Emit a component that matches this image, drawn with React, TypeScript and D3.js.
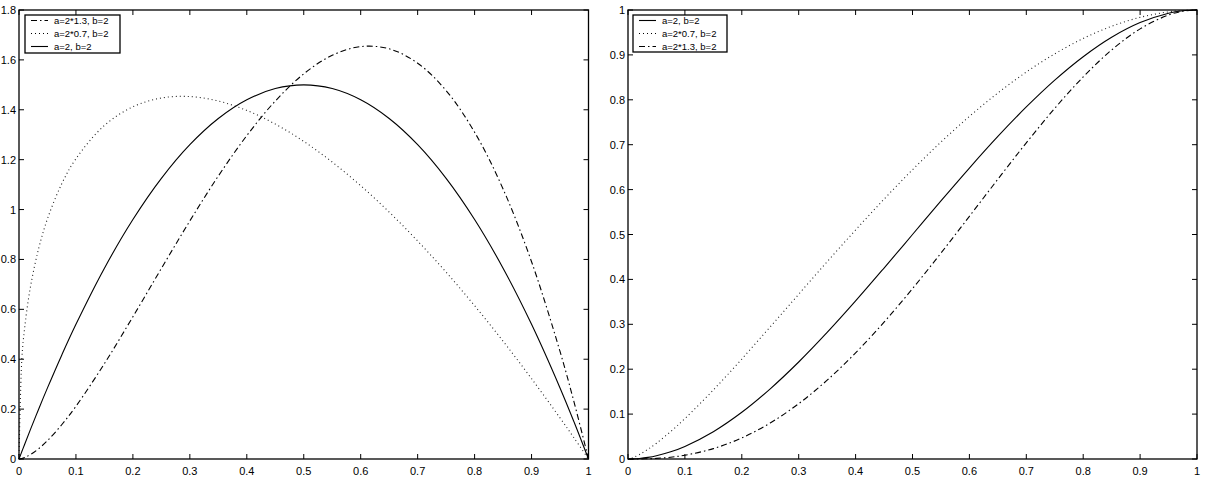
import React from "react";
import * as d3 from "d3";

const xs = [0, 0.005, 0.01, 0.02, 0.035, 0.05, 0.075, 0.1, 0.15, 0.2, 0.25, 0.3, 0.35, 0.4, 0.45, 0.5, 0.55, 0.6, 0.65, 0.7, 0.75, 0.8, 0.85, 0.9, 0.95, 0.975, 1];

// left panel (density)
const pdfA = [0, 0.0299, 0.0594, 0.1176, 0.2027, 0.285, 0.4163, 0.54, 0.765, 0.96, 1.125, 1.26, 1.365, 1.44, 1.485, 1.5, 1.485, 1.44, 1.365, 1.26, 1.125, 0.96, 0.765, 0.54, 0.285, 0.1463, 0];
const pdfB = [0, 0.4015, 0.5272, 0.6885, 0.8482, 0.963, 1.103, 1.2039, 1.3372, 1.412, 1.4472, 1.4531, 1.4351, 1.3973, 1.3428, 1.2733, 1.1904, 1.0956, 0.9898, 0.8739, 0.7487, 0.6146, 0.4723, 0.3221, 0.1646, 0.0832, 0];
const pdfC = [0, 0.0019, 0.0059, 0.0175, 0.0423, 0.0737, 0.1373, 0.2116, 0.3824, 0.5703, 0.764, 0.9545, 1.1344, 1.2964, 1.4349, 1.5439, 1.6184, 1.6533, 1.6443, 1.5868, 1.4769, 1.31, 1.0825, 0.7908, 0.4311, 0.2247, 0];

// right panel (cumulative)
const cdfA = [0, 0.0001, 0.0003, 0.0012, 0.0036, 0.0073, 0.016, 0.028, 0.0608, 0.104, 0.1563, 0.216, 0.2818, 0.352, 0.4253, 0.5, 0.5748, 0.648, 0.7183, 0.784, 0.8438, 0.896, 0.9393, 0.972, 0.9928, 0.9982, 1];
const cdfB = [0, 0.0014, 0.0038, 0.0099, 0.0215, 0.0352, 0.0611, 0.09, 0.1538, 0.2227, 0.2943, 0.367, 0.4393, 0.5101, 0.5787, 0.6442, 0.7058, 0.763, 0.8152, 0.8618, 0.9024, 0.9366, 0.9638, 0.9836, 0.9959, 0.9989, 1];
const cdfC = [0, 0, 0, 0.0001, 0.0006, 0.0014, 0.004, 0.0084, 0.0231, 0.0469, 0.0803, 0.1232, 0.1755, 0.2364, 0.3048, 0.3794, 0.4586, 0.5405, 0.6231, 0.7041, 0.781, 0.8509, 0.911, 0.958, 0.9889, 0.9972, 1];

const labelA = "a=2, b=2";
const labelB = "a=2*0.7, b=2";
const labelC = "a=2*1.3, b=2";

const xTicks = [0, 0.1, 0.2, 0.3, 0.4, 0.5, 0.6, 0.7, 0.8, 0.9, 1];
const yTicksLeft = [0, 0.2, 0.4, 0.6, 0.8, 1, 1.2, 1.4, 1.6, 1.8];
const yTicksRight = [0, 0.1, 0.2, 0.3, 0.4, 0.5, 0.6, 0.7, 0.8, 0.9, 1];

const styles: Record<string, string | undefined> = {
  A: undefined,
  B: "1,3",
  C: "6,3,1.5,3",
};

const FONT = "'Liberation Sans', Arial, Helvetica, sans-serif";

type Series = { key: string; label: string; values: number[] };

function Panel({ x0, x1, y0, y1, yMax, yTicks, series, legendBox }: {
  x0: number; x1: number; y0: number; y1: number; yMax: number; yTicks: number[]; series: Series[];
  legendBox: { x: number; y: number; w: number; h: number };
}) {
  const xScale = d3.scaleLinear().domain([0, 1]).range([x0, x1]);
  const yScale = d3.scaleLinear().domain([0, yMax]).range([y1, y0]);
  const line = d3
    .line<number>()
    .x((_, i) => xScale(xs[i]))
    .y((d) => yScale(d))
    .curve(d3.curveCatmullRom.alpha(0.5));
  const fmt = (v: number) => String(+v.toFixed(2));
  const tl = 5;
  return (
    <g>
      {series.map((s) => (
        <path key={s.key} d={line(s.values) || ""} fill="none" stroke={s.key === "B" ? "#222" : "#000"} strokeWidth={1.1}
          strokeDasharray={styles[s.key]} />
      ))}
      <rect x={x0} y={y0} width={x1 - x0} height={y1 - y0} fill="none" stroke="#000" strokeWidth={1.3} />
      {xTicks.map((t) => (
        <g key={"x" + t}>
          <line x1={xScale(t)} x2={xScale(t)} y1={y1} y2={y1 - tl} stroke="#000" strokeWidth={1} />
          <line x1={xScale(t)} x2={xScale(t)} y1={y0} y2={y0 + tl} stroke="#000" strokeWidth={1} />
          <text x={xScale(t)} y={y1 + 16} textAnchor="middle" fontSize={11} fontFamily={FONT}>{fmt(t)}</text>
        </g>
      ))}
      {yTicks.map((t) => (
        <g key={"y" + t}>
          <line x1={x0} x2={x0 + tl} y1={yScale(t)} y2={yScale(t)} stroke="#000" strokeWidth={1} />
          <line x1={x1} x2={x1 - tl} y1={yScale(t)} y2={yScale(t)} stroke="#000" strokeWidth={1} />
          <text x={x0 - 3} y={yScale(t) + 4} textAnchor="end" fontSize={11} fontFamily={FONT}>{fmt(t)}</text>
        </g>
      ))}
      <rect x={legendBox.x} y={legendBox.y} width={legendBox.w} height={legendBox.h} fill="#fff" stroke="#000" strokeWidth={1.3} />
      {series.map((s, i) => {
        const ly = legendBox.y + 5.5 + i * 13;
        return (
          <g key={"l" + s.key}>
            <line x1={legendBox.x + 6} x2={legendBox.x + 23} y1={ly} y2={ly} stroke="#000" strokeWidth={1.1} strokeDasharray={styles[s.key]} />
            <text x={legendBox.x + 29} y={ly + 3.5} fontSize={9.5} fontFamily={FONT}>{s.label}</text>
          </g>
        );
      })}
    </g>
  );
}

export default function App() {
  return (
    <svg width={1213} height={486} style={{ position: "absolute", left: 0, top: 0, background: "#fff" }}>
      <rect width={1213} height={486} fill="#fff" />
      <Panel x0={19} x1={588.5} y0={10} y1={459} yMax={1.8} yTicks={yTicksLeft}
        series={[
          { key: "C", label: labelC, values: pdfC },
          { key: "B", label: labelB, values: pdfB },
          { key: "A", label: labelA, values: pdfA },
        ]}
        legendBox={{ x: 25, y: 15, w: 95, h: 38 }} />
      <Panel x0={628} x1={1197} y0={10} y1={459} yMax={1} yTicks={yTicksRight}
        series={[
          { key: "A", label: labelA, values: cdfA },
          { key: "B", label: labelB, values: cdfB },
          { key: "C", label: labelC, values: cdfC },
        ]}
        legendBox={{ x: 633, y: 15, w: 94, h: 37 }} />
    </svg>
  );
}
